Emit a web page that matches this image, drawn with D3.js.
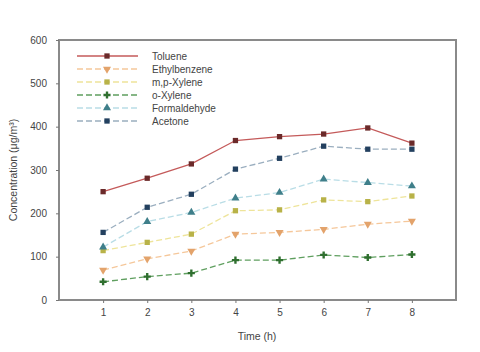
<!DOCTYPE html>
<html>
<head>
<meta charset="utf-8">
<script src="https://cdn.jsdelivr.net/npm/d3@7"></script>
<style>
  body { margin: 0; background: #fff; }
  text { font-family: "Liberation Sans", Arial, sans-serif; fill: #444; }
</style>
</head>
<body>
<svg id="chart" width="480" height="352"></svg>
<script>
// data
const hours = [1, 2, 3, 4, 5, 6, 7, 8];
const yTicks = [0, 100, 200, 300, 400, 500, 600];
const seriesNames = ["Toluene", "Ethylbenzene", "m,p-Xylene", "o-Xylene", "Formaldehyde", "Acetone"];
const toluene = [250, 281, 314, 368, 377, 383, 397, 362];
const ethylbenzene = [69, 95, 113, 152, 156, 163, 175, 182];
const mpXylene = [114, 133, 152, 206, 208, 231, 227, 240];
const oXylene = [42, 54, 62, 92, 92, 104, 98, 105];
const formaldehyde = [122, 181, 202, 235, 248, 279, 271, 263];
const acetone = [156, 214, 244, 302, 327, 355, 348, 348];

const seriesValues = [toluene, ethylbenzene, mpXylene, oXylene, formaldehyde, acetone];
const lineColors = ["#c45a5a", "#f5c79a", "#eee49a", "#5f9f5f", "#b9dde6", "#9aaebf"];
const markColors = ["#6b2a2a", "#e3a36b", "#b8b248", "#2f6f2f", "#3f7f8a", "#23405f"];
const symbols = [d3.symbolSquare, d3.symbolTriangle, d3.symbolSquare, d3.symbolCross, d3.symbolTriangle, d3.symbolSquare];

const svg = d3.select("#chart");
const plotL = 59, plotR = 456, plotT = 40, plotB = 300;

const x = d3.scaleLinear().domain([0, 9]).range([plotL, plotR]);
const y = d3.scaleLinear().domain([0, 600]).range([plotB, plotT]);

// frame
svg.append("rect")
  .attr("x", plotL).attr("y", plotT)
  .attr("width", plotR - plotL).attr("height", plotB - plotT)
  .attr("fill", "none").attr("stroke", "#8a8a8a").attr("stroke-width", 2);

const yAxis = svg.append("g")
  .attr("transform", `translate(${plotL},0)`)
  .call(d3.axisLeft(y).tickValues(yTicks).tickSize(3).tickPadding(9));
const xAxis = svg.append("g")
  .attr("transform", `translate(0,${plotB})`)
  .call(d3.axisBottom(x).tickValues(hours).tickSize(3).tickPadding(6));
[xAxis, yAxis].forEach(g => {
  g.select(".domain").remove();
  g.selectAll("line").attr("stroke", "#777");
  g.selectAll("text").style("font-size", "10px").attr("fill", "#555");
});

svg.append("text")
  .attr("x", 257).attr("y", 340)
  .attr("text-anchor", "middle").style("font-size", "10.5px")
  .text("Time (h)");

svg.append("text")
  .attr("transform", `translate(17,170) rotate(-90)`)
  .attr("text-anchor", "middle").style("font-size", "10.5px")
  .text("Concentration (μg/m³)");

const line = d3.line().x((d, i) => x(hours[i])).y(d => y(d));

seriesValues.forEach((vals, k) => {
  svg.append("path")
    .datum(vals)
    .attr("d", line)
    .attr("fill", "none")
    .attr("stroke", lineColors[k])
    .attr("stroke-width", 1.3)
    .attr("stroke-dasharray", k === 0 ? null : "6,3");
  svg.selectAll(null)
    .data(vals)
    .join("path")
    .attr("transform", (d, i) => `translate(${x(hours[i])},${y(d)})` + (k === 1 ? " rotate(180)" : ""))
    .attr("d", d3.symbol().type(symbols[k]).size(28))
    .attr("fill", markColors[k]);
});

// legend
const legend = svg.append("g");
seriesNames.forEach((name, k) => {
  const ly = 56 + k * 13;
  legend.append("line")
    .attr("x1", 77).attr("x2", 138).attr("y1", ly).attr("y2", ly)
    .attr("stroke", lineColors[k]).attr("stroke-width", 1.3)
    .attr("stroke-dasharray", k === 0 ? null : "6,3");
  legend.append("path")
    .attr("transform", `translate(107,${ly})` + (k === 1 ? " rotate(180)" : ""))
    .attr("d", d3.symbol().type(symbols[k]).size(28))
    .attr("fill", markColors[k]);
  legend.append("text")
    .attr("x", 152).attr("y", ly + 3.5)
    .style("font-size", "10px")
    .text(name);
});
</script>
</body>
</html>
